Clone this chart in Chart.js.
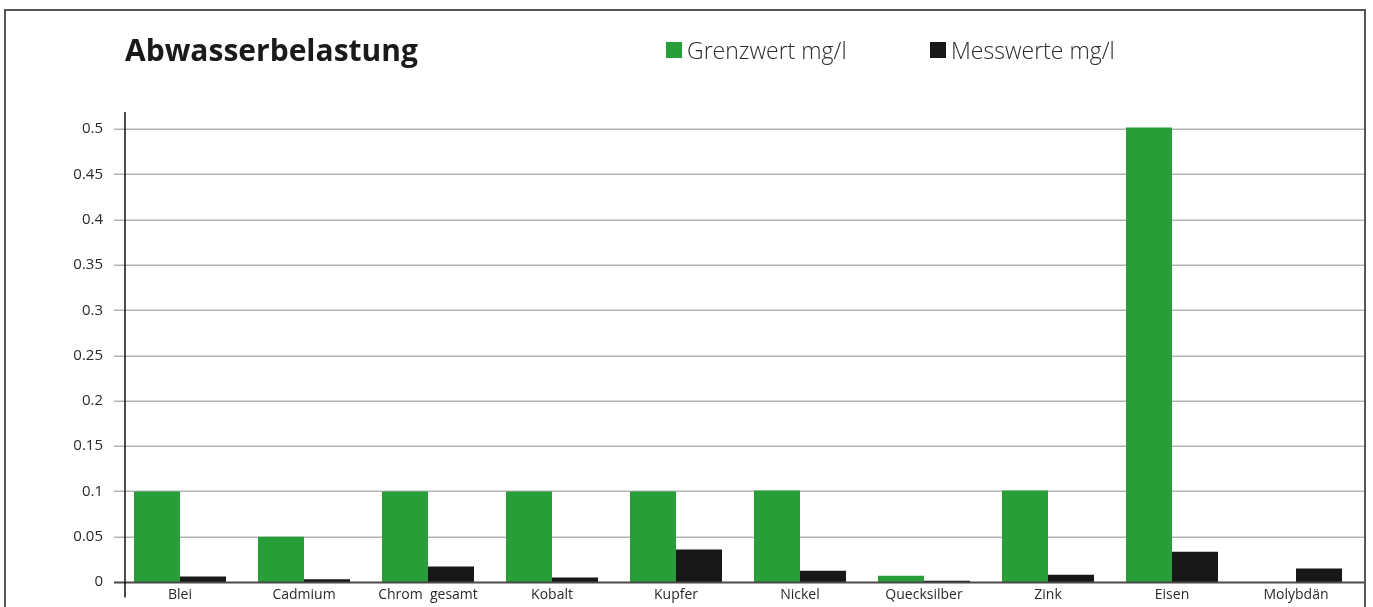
<!DOCTYPE html>
<html>
<head>
<meta charset="utf-8">
<script src="https://cdn.jsdelivr.net/npm/chart.js@4/dist/chart.umd.min.js"></script>
<style>
  html, body { margin: 0; padding: 0; background: #ffffff; }
  #wrap { position: relative; width: 1373px; height: 607px; }
</style>
</head>
<body>
<div id="wrap"><canvas id="c" width="1373" height="607"></canvas></div>
<script>
const chartTitle = 'Abwasserbelastung';
const categories = ['Blei', 'Cadmium', 'Chrom  gesamt', 'Kobalt', 'Kupfer', 'Nickel', 'Quecksilber', 'Zink', 'Eisen', 'Molybdän'];
const seriesNames = ['Grenzwert mg/l', 'Messwerte mg/l'];
const grenzwert = [0.1, 0.05, 0.1, 0.1, 0.1, 0.101, 0.007, 0.101, 0.502, null];
const messwerte = [0.006, 0.003, 0.017, 0.005, 0.036, 0.0125, 0.0015, 0.008, 0.0335, 0.015];
const yTickValues = [0, 0.05, 0.1, 0.15, 0.2, 0.25, 0.3, 0.35, 0.4, 0.45, 0.5];
const yTickLabels = ['0', '0.05', '0.1', '0.15', '0.2', '0.25', '0.3', '0.35', '0.4', '0.45', '0.5'];

const GREEN = '#279e38';
const BLACK = '#18181a';
const FONT = '"Open Sans", "Noto Sans", sans-serif';

const decor = {
  id: 'decor',
  beforeDraw(chart) {
    const ctx = chart.ctx;
    ctx.save();
    ctx.strokeStyle = '#555555';
    ctx.lineWidth = 2;
    ctx.beginPath();
    ctx.moveTo(5, 610);
    ctx.lineTo(5, 10);
    ctx.lineTo(1365, 10);
    ctx.lineTo(1365, 610);
    ctx.stroke();
    ctx.restore();
  },
  beforeDatasetsDraw(chart) {
    const ctx = chart.ctx;
    const y = chart.scales.y;
    ctx.save();
    ctx.strokeStyle = '#b4b4b4';
    ctx.lineWidth = 1.5;
    yTickValues.forEach(v => {
      if (v === 0) return;
      const py = Math.round(y.getPixelForValue(v)) + 0.25;
      ctx.beginPath();
      ctx.moveTo(114, py);
      ctx.lineTo(1364, py);
      ctx.stroke();
    });
    ctx.restore();
  },
  afterDatasetsDraw(chart) {
    const ctx = chart.ctx;
    const y = chart.scales.y;
    const area = chart.chartArea;
    ctx.save();
    const p0 = Math.round(y.getPixelForValue(0)) + 0.5;
    ctx.strokeStyle = '#4a4a4a';
    ctx.lineWidth = 2;
    ctx.beginPath();
    ctx.moveTo(114, p0);
    ctx.lineTo(1364, p0);
    ctx.stroke();
    ctx.strokeStyle = '#111111';
    ctx.lineWidth = 1.5;
    ctx.beginPath();
    ctx.moveTo(125, area.top);
    ctx.lineTo(125, p0 + 15);
    ctx.stroke();

    ctx.fillStyle = '#1a1a1a';
    ctx.font = 'bold 30px ' + FONT;
    ctx.textBaseline = 'alphabetic';
    ctx.textAlign = 'left';
    ctx.fillText(chartTitle, 125, 61);

    const ds = chart.data.datasets;
    const legendX = [666, 930];
    ctx.font = '300 23px ' + FONT;
    ds.forEach((d, i) => {
      ctx.fillStyle = d.backgroundColor;
      ctx.fillRect(legendX[i], 42, 16, 16);
      ctx.fillStyle = '#2a2a2a';
      ctx.fillText(d.label, legendX[i] + 21, 59);
    });
    ctx.restore();
  }
};

new Chart(document.getElementById('c'), {
  type: 'bar',
  data: {
    labels: categories,
    datasets: [
      { label: seriesNames[0], data: grenzwert, backgroundColor: GREEN, borderWidth: 0 },
      { label: seriesNames[1], data: messwerte, backgroundColor: BLACK, borderWidth: 0 }
    ]
  },
  options: {
    responsive: false,
    animation: false,
    devicePixelRatio: 1,
    layout: { padding: { top: 112, right: 15, bottom: 0, left: 0 } },
    plugins: {
      legend: { display: false },
      title: { display: false },
      tooltip: { enabled: false }
    },
    datasets: {
      bar: { categoryPercentage: 0.742, barPercentage: 1.0 }
    },
    scales: {
      x: {
        type: 'category',
        offset: true,
        grid: { display: false },
        border: { display: false },
        ticks: {
          color: '#2a2a2a',
          font: { family: FONT, size: 14 },
          padding: -3,
          maxRotation: 0,
          autoSkip: false
        },
        afterFit(s) { s.height = 25; }
      },
      y: {
        min: 0,
        max: 0.519,
        grid: { display: false },
        border: { display: false },
        afterBuildTicks(s) { s.ticks = yTickValues.map(v => ({ value: v })); },
        ticks: {
          color: '#2a2a2a',
          font: { family: FONT, size: 15 },
          padding: 7,
          callback: function (v, i) { return yTickLabels[i]; }
        },
        afterFit(s) { s.width = 118; }
      }
    }
  },
  plugins: [decor]
});
</script>
</body>
</html>
